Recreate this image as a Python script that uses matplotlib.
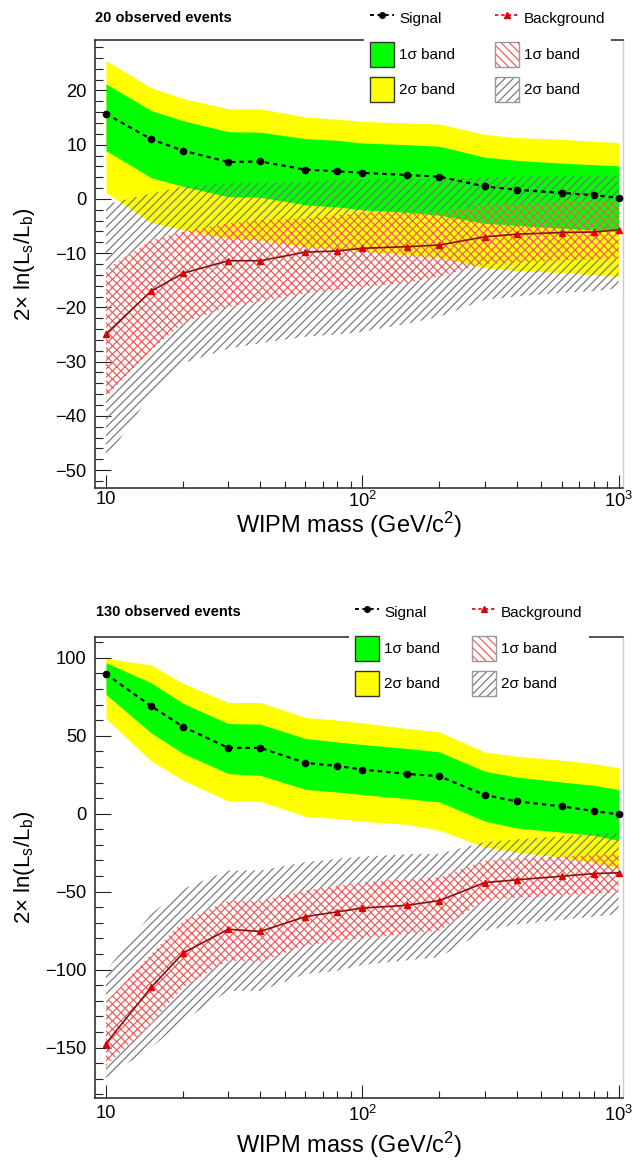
import numpy as np
import matplotlib
matplotlib.use("Agg")
import matplotlib.pyplot as plt
from matplotlib.lines import Line2D
from matplotlib.patches import Patch
from matplotlib.ticker import FixedLocator, FixedFormatter, LogLocator, MultipleLocator, NullFormatter

plt.rcParams["font.family"] = ["Liberation Sans", "DejaVu Sans"]
plt.rcParams["mathtext.default"] = "regular"
plt.rcParams["hatch.linewidth"] = 0.85

# ---- data: WIPM mass points (GeV/c^2) ----
mass = [10, 15, 20, 30, 40, 60, 80, 100, 150, 200, 300, 400, 600, 800, 1000]

# 20 observed events
sig20 = [15.7, 11.0, 8.9, 6.8, 6.9, 5.4, 5.1, 4.8, 4.4, 4.1, 2.3, 1.7, 1.1, 0.7, 0.2]
sig20_p1 = [21.2, 16.3, 14.4, 12.4, 12.3, 11.1, 10.8, 10.3, 10.0, 9.7, 7.7, 7.1, 6.6, 6.3, 6.1]
sig20_m1 = [8.9, 3.9, 2.3, 0.4, 0.3, -1.1, -1.5, -2.0, -2.5, -3.0, -4.5, -4.9, -5.4, -5.7, -6.0]
sig20_p2 = [25.5, 20.5, 18.5, 16.6, 16.6, 15.1, 14.7, 14.3, 14.0, 13.8, 11.9, 11.3, 11.0, 10.6, 10.4]
sig20_m2 = [1.2, -4.4, -5.7, -7.3, -7.6, -8.8, -9.2, -9.6, -10.3, -10.8, -12.7, -13.2, -13.6, -14.0, -14.3]
bkg20 = [-24.9, -17.0, -13.7, -11.4, -11.4, -9.8, -9.6, -9.1, -8.8, -8.5, -7.0, -6.5, -6.2, -6.1, -5.7]
bkg20_p1 = [-13.0, -7.6, -6.0, -4.5, -3.9, -3.6, -3.0, -2.5, -2.3, -2.4, -1.0, -0.8, -0.6, -0.5, -0.4]
bkg20_m1 = [-36.5, -27.9, -22.9, -19.9, -18.9, -17.4, -16.8, -16.2, -15.5, -14.3, -12.0, -11.8, -11.3, -11.2, -11.0]
bkg20_p2 = [-1.0, 1.0, 2.3, 2.9, 3.0, 3.2, 3.4, 3.6, 3.7, 3.7, 4.0, 4.1, 4.2, 4.3, 4.4]
bkg20_m2 = [-48.0, -35.9, -30.3, -27.6, -26.6, -25.4, -25.0, -24.5, -23.0, -21.7, -18.6, -18.0, -17.3, -17.0, -16.5]

# 130 observed events
sig130 = [89.5, 69.0, 55.7, 42.2, 42.2, 32.6, 30.6, 28.3, 25.5, 24.0, 12.0, 7.9, 4.7, 1.7, -0.4]
sig130_p1 = [96.8, 83.9, 70.7, 57.8, 57.4, 48.2, 46.0, 44.4, 41.8, 39.6, 27.2, 23.5, 20.3, 18.2, 15.4]
sig130_m1 = [76.5, 51.8, 38.6, 25.7, 24.6, 15.6, 13.9, 12.3, 9.6, 7.5, -4.7, -9.2, -11.8, -13.9, -17.2]
sig130_p2 = [99.6, 95.3, 83.5, 71.3, 71.3, 61.7, 60.0, 58.2, 54.6, 52.4, 39.6, 36.8, 34.3, 32.1, 29.3]
sig130_m2 = [61.0, 33.8, 21.4, 8.1, 7.9, -1.7, -3.2, -4.8, -6.9, -10.7, -21.4, -24.7, -27.9, -31.1, -35.0]
bkg130 = [-147.4, -111.4, -89.3, -74.1, -75.5, -66.0, -62.9, -60.5, -58.7, -55.7, -44.2, -42.4, -40.1, -38.4, -37.9]
bkg130_p1 = [-121.0, -90.0, -68.6, -55.7, -55.7, -49.3, -46.0, -44.0, -42.0, -40.7, -30.0, -28.5, -27.5, -26.5, -25.7]
bkg130_m1 = [-161.8, -135.0, -111.4, -94.3, -95.0, -84.6, -81.5, -80.0, -77.0, -75.0, -55.5, -54.0, -52.5, -51.5, -50.4]
bkg130_p2 = [-100.7, -64.3, -48.2, -36.4, -36.4, -31.1, -28.9, -27.5, -26.0, -25.7, -18.2, -16.5, -14.5, -13.0, -11.8]
bkg130_m2 = [-169.3, -150.0, -132.8, -113.6, -113.6, -102.8, -100.7, -97.0, -94.0, -92.0, -75.0, -71.0, -68.0, -66.0, -64.3]

GREEN, YELLOW = "#00ff00", "#ffff00"
REDH, GRAYH = "#f05a5a", "#747474"
W, H = 642, 1166


def panel(ax, sig, s_p1, s_m1, s_p2, s_m2, bkg, b_p1, b_m1, b_p2, b_m2):
    ax.fill_between(mass, s_m2, s_p2, color=YELLOW, lw=0, zorder=1)
    ax.fill_between(mass, s_m1, s_p1, color=GREEN, lw=0, zorder=2)
    # 2 sigma background band, outside the 1 sigma one
    ax.fill_between(mass, b_p1, b_p2, facecolor="none", edgecolor=GRAYH,
                    hatch="////", lw=0, zorder=3)
    ax.fill_between(mass, b_m2, b_m1, facecolor="none", edgecolor=GRAYH,
                    hatch="////", lw=0, zorder=3)
    ax.fill_between(mass, b_m1, b_p1, facecolor="none", edgecolor=REDH,
                    hatch="xxxx", lw=0, zorder=4)
    ax.plot(mass, bkg, color="#8a1010", lw=1.2, zorder=5)
    ax.plot(mass, bkg, ls="none", marker="^", ms=5, color="#e00000", zorder=6)
    ax.plot(mass, sig, color="k", ls="--", dashes=(2, 1.8), lw=1.6,
            marker="o", ms=4.5, zorder=7)

    ax.set_xscale("log")
    ax.set_xlim(9.06, 1040)
    ax.xaxis.set_major_locator(FixedLocator([10, 100, 1000]))
    ax.xaxis.set_major_formatter(FixedFormatter(["10", "10$^2$", "10$^3$"]))
    ax.xaxis.set_minor_locator(LogLocator(base=10, subs=np.arange(2, 10)))
    ax.xaxis.set_minor_formatter(NullFormatter())
    ax.tick_params(axis="both", which="both", direction="in", top=False,
                   right=False, labelsize=13.2, width=0.8, color="#222")
    ax.tick_params(axis="y", which="major", length=11.4, pad=6)
    ax.tick_params(axis="y", which="minor", length=5.7)
    ax.tick_params(axis="x", which="major", length=9.6, pad=5)
    ax.tick_params(axis="x", which="minor", length=4.8)
    for s in ("left", "bottom", "top"):
        ax.spines[s].set_color("#222")
        ax.spines[s].set_linewidth(1.1)
    ax.spines["right"].set_color("#cccccc")
    ax.spines["right"].set_linewidth(1.0)

    ax.set_xlabel(r"WIPM mass (GeV/c$^2$)", fontsize=17, va="center")
    ax.set_ylabel(r"2$\times$ ln(L$_s$/L$_b$)", fontsize=16, va="center")


def add_legend(fig, x0, ytop, colsp):
    h_sig = Line2D([], [], color="k", ls="--", dashes=(2, 1.8), lw=1.4,
                   marker="o", ms=4)
    h_bkg = Line2D([], [], color="#e00000", ls="--", dashes=(2, 1.8), lw=1.2,
                   marker="^", ms=4.5)
    h_g = Patch(facecolor=GREEN, edgecolor="#333", lw=1)
    h_y = Patch(facecolor=YELLOW, edgecolor="#333", lw=1)
    h_r = (Patch(facecolor="white", edgecolor=REDH, hatch="\\\\\\\\", lw=0),
           Patch(facecolor="none", edgecolor="#999", lw=1))
    h_k = (Patch(facecolor="white", edgecolor=GRAYH, hatch="////", lw=0),
           Patch(facecolor="none", edgecolor="#999", lw=1))
    handles = [h_sig, h_g, h_y, h_bkg, h_r, h_k]
    labels = ["Signal", "1σ band", "2σ band", "Background", "1σ band", "2σ band"]
    leg = fig.legend(handles, labels, ncol=2, loc="upper left",
                     bbox_to_anchor=(x0 / W, 1 - ytop / H), borderaxespad=0,
                     fontsize=11, frameon=True, fancybox=False,
                     facecolor="white", edgecolor="none", framealpha=1,
                     handlelength=1.57, handleheight=2.14, handletextpad=0.33,
                     labelspacing=0.69, columnspacing=colsp, borderpad=0.4)
    leg.set_zorder(10)
    return leg


fig = plt.figure(figsize=(W / 100, H / 100), dpi=100)

ax1 = fig.add_axes([95 / W, 1 - 488 / H, 528 / W, 448 / H])
panel(ax1, sig20, sig20_p1, sig20_m1, sig20_p2, sig20_m2,
      bkg20, bkg20_p1, bkg20_m1, bkg20_p2, bkg20_m2)
ax1.set_ylim(-53.3, 29.3)
ax1.yaxis.set_major_locator(MultipleLocator(10))
ax1.yaxis.set_minor_locator(MultipleLocator(2))
ax1.tick_params(axis="x", which="major", pad=2)
ax1.xaxis.set_label_coords(0.481, -0.082)
ax1.yaxis.set_label_coords(-0.133, 0.5)

ax2 = fig.add_axes([95 / W, 1 - 1098 / H, 528 / W, 461 / H])
panel(ax2, sig130, sig130_p1, sig130_m1, sig130_p2, sig130_m2,
      bkg130, bkg130_p1, bkg130_m1, bkg130_p2, bkg130_m2)
ax2.set_ylim(-182.3, 113.3)
ax2.yaxis.set_major_locator(MultipleLocator(50))
ax2.yaxis.set_minor_locator(MultipleLocator(10))
ax2.xaxis.set_label_coords(0.481, -0.102)
ax2.yaxis.set_label_coords(-0.133, 0.5)

fig.text(95 / W, 1 - 18 / H, "20 observed events", fontsize=10.5,
         fontweight="bold", va="center", ha="left")
fig.text(96 / W, 1 - 612 / H, "130 observed events", fontsize=10.5,
         fontweight="bold", va="center", ha="left")

add_legend(fig, 364, 0, 2.6)
add_legend(fig, 349, 594, 2.1)

fig.savefig("out.png", dpi=100)
